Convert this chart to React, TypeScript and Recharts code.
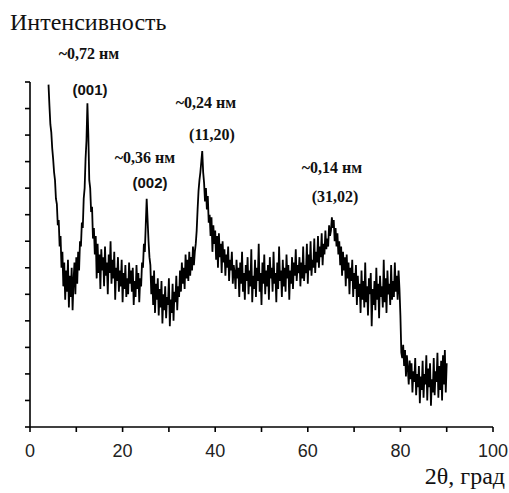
import { LineChart, Line, XAxis, YAxis } from 'recharts';

// XRD pattern, sampled every 0.2° from 4° to 90° (2θ)
const twoThetaStart = 4;
const twoThetaStep = 0.2;

// 4.0° – 22.0°: falling edge and (001) peak
const lowAngle = [
  12.9, 12.1, 11.4, 11.1, 10.5, 10.1, 9.6, 9.3, 8.6, 8.4, 7.6, 7.8, 6.8, 7.2, 6.0, 6.6,
  5.3, 6.2, 4.8, 5.9, 5.1, 6.3, 4.5, 5.7, 4.9, 6.0, 4.4, 5.5, 6.2, 5.0, 6.4, 5.4, 6.6, 5.9, 7.0,
  6.8, 7.7, 7.5, 8.6, 9.0, 10.1, 10.8, 12.2,
  11.0, 9.3, 9.0, 8.1, 8.3, 7.1, 7.5, 6.5, 7.2,
  5.6, 6.9, 5.8, 6.5, 5.2, 6.7, 5.9, 6.4, 5.3, 6.8, 5.7, 6.2, 5.0, 6.5, 5.8, 7.0, 5.4, 6.3,
  5.6, 6.6, 4.8, 6.0, 5.5, 6.4, 5.1, 5.9, 5.3, 6.3, 4.7, 5.8, 5.2, 6.1, 4.9, 5.6, 5.0, 6.2,
  5.4, 5.9, 5.1,
];
// 22.2° – 32.4°: (002) peak and dip
const peak002Region = [
  6.0, 4.6, 5.5, 4.9, 6.1, 5.2, 5.8, 4.7, 5.6, 5.3, 6.2,
  6.0, 6.9, 6.6, 7.6, 8.6, 7.8, 7.0, 6.4,
  6.1, 5.0, 5.7, 4.6, 5.9, 4.3, 5.4, 4.8, 5.6, 4.2, 5.2, 4.5, 5.5, 3.9, 5.0, 4.4, 5.3, 4.1,
  4.9, 4.6, 5.6, 3.8, 4.8, 4.3, 5.4, 4.0, 5.1, 4.7, 5.7, 4.4, 5.3, 4.9, 5.9,
];
// 32.6° – 44.2°: (11,20) peak
const peak1120Region = [
  5.1, 6.2, 5.4, 6.0, 5.2, 6.5, 5.6, 6.3, 5.5, 6.6, 5.7, 6.4, 5.9, 6.8, 6.1, 6.6, 6.9,
  7.4, 8.2, 8.9, 9.3, 9.6, 10.0, 10.4, 9.6, 9.2, 8.5, 9.0, 8.2, 8.7, 7.7, 8.0,
  7.2, 7.9, 6.6, 7.6, 6.9, 7.4, 6.3, 7.2, 6.0, 7.3, 6.4, 6.9, 5.8, 7.0, 6.2, 6.7, 5.7, 6.5,
  6.0, 6.8, 5.5, 6.3, 5.9, 6.6, 5.4, 6.1, 5.8,
];
// 44.4° – 58.0°: flat background
const plateau = [
  5.2, 6.3, 5.6, 6.0, 4.9, 6.2, 5.4, 6.6, 5.1, 5.8, 4.8, 6.1, 5.5, 6.4, 5.0, 5.9, 5.3, 6.7,
  4.7, 5.7, 5.2, 6.3, 4.9, 6.0, 5.5, 6.9, 5.1, 5.8, 4.6, 6.2, 5.4, 6.5, 5.0, 5.9, 5.3, 6.1,
  4.8, 6.4, 5.6, 6.0, 5.1, 6.6, 5.4, 5.8, 4.7, 6.2, 5.2, 6.8, 5.5, 5.9, 4.9, 6.3, 5.3, 6.0,
  5.1, 6.5, 5.6, 6.1, 4.8, 5.9, 5.4, 6.4, 5.2, 6.2, 5.7, 6.7, 5.5, 6.1, 5.8,
];
// 58.2° – 79.8°: broad (31,02) peak and shoulder
const peak3102Region = [
  6.4, 5.3, 6.2, 5.6, 6.8, 5.5, 6.1, 5.8, 6.9, 5.4, 6.5, 5.9, 7.0, 5.7, 6.3, 6.0, 7.1, 5.8,
  6.6, 6.2, 7.2, 6.0, 6.8, 6.4, 7.3, 6.1, 6.9, 6.5, 7.4, 6.7, 7.1, 6.8, 7.6, 7.2,
  7.4, 7.9, 7.5, 7.8, 7.0, 7.5, 6.8, 7.3, 6.5,
  7.0, 6.1, 6.8, 5.7, 6.6, 5.9, 6.4, 5.3, 6.5, 5.6, 6.2, 5.0, 6.0, 5.5, 6.3, 4.9, 5.8, 5.2, 6.1,
  4.6, 5.7, 4.9, 5.4, 4.3, 5.9, 4.8, 5.5, 4.5, 6.2, 4.7, 5.3, 4.2, 5.6, 5.0, 5.8, 3.8, 5.2,
  4.6, 5.5, 4.4, 6.0, 4.8, 5.4, 4.1, 5.7, 4.9, 5.3, 4.5, 6.3, 4.7, 5.6, 4.3, 5.9, 5.0, 5.4,
  4.6, 6.1, 4.8, 5.5, 4.9, 6.2, 5.1, 5.7, 4.8, 5.9, 5.2,
];
// 80.0° – 90.0°: after the step
const highAngle = [
  4.2, 2.8, 2.6, 3.1, 2.3, 2.9, 1.9, 2.7, 2.2, 1.6,
  2.5, 1.8, 2.4, 1.3, 2.1, 1.7, 2.6, 1.2, 2.0, 1.5,
  2.3, 0.9, 1.9, 1.4, 2.5, 1.1, 2.0, 1.6, 2.7, 1.0,
  2.2, 1.5, 2.4, 0.8, 1.8, 1.3, 2.6, 1.2, 2.1, 1.7,
  2.8, 1.1, 2.3, 1.4, 2.5, 1.0, 2.7, 1.6, 2.9, 1.3, 2.4,
];

const xTicks = [0, 10, 20, 30, 40, 50, 60, 70, 80, 90, 100];
const yTicks = [0, 1, 2, 3, 4, 5, 6, 7, 8, 9, 10, 11, 12, 13];

const peakLabels = [
  { text: '~0,72 нм', x: 89, y: 54, serif: true },
  { text: '(001)', x: 90, y: 89, serif: false },
  { text: '~0,36 нм', x: 145, y: 158, serif: true },
  { text: '(002)', x: 150, y: 182, serif: false },
  { text: '~0,24 нм', x: 206, y: 103, serif: true },
  { text: '(11,20)', x: 212, y: 135, serif: true },
  { text: '~0,14 нм', x: 332, y: 168, serif: true },
  { text: '(31,02)', x: 335, y: 197, serif: true },
];

const intensity = [
  ...lowAngle,
  ...peak002Region,
  ...peak1120Region,
  ...plateau,
  ...peak3102Region,
  ...highAngle,
];
const data = intensity.map((v, i) => ({
  angle: +(twoThetaStart + i * twoThetaStep).toFixed(1),
  value: v,
}));

export default function App() {
  return (
    <div style={{ position: 'absolute', left: 0, top: 0, width: 509, height: 493, background: '#fff' }}>
      <LineChart
        width={509}
        height={493}
        data={data}
        margin={{ top: 82, right: 16, left: 0, bottom: 0 }}
      >
        <XAxis
          dataKey="angle"
          type="number"
          domain={[0, 100]}
          ticks={xTicks}
          interval={0}
          height={66}
          stroke="#000"
          strokeWidth={1.6}
          tickSize={5}
          tickMargin={12}
          tick={{ fill: '#222', fontSize: 18, fontFamily: 'Liberation Sans, Arial, sans-serif' }}
          tickFormatter={(v: number) => (v % 20 === 0 ? String(v) : '')}
        />
        <YAxis
          type="number"
          domain={[0, 13]}
          ticks={yTicks}
          interval={0}
          width={30}
          stroke="#000"
          strokeWidth={1.6}
          tickSize={5}
          tickFormatter={() => ''}
        />
        <Line
          dataKey="value"
          type="linear"
          stroke="#000"
          strokeWidth={1.8}
          dot={false}
          isAnimationActive={false}
        />
      </LineChart>
      <div
        style={{
          position: 'absolute',
          left: 10,
          top: 8,
          fontFamily: 'Liberation Serif, Times New Roman, serif',
          fontSize: 24,
          lineHeight: '28px',
          color: '#111',
        }}
      >
        Интенсивность
      </div>
      <div
        style={{
          position: 'absolute',
          right: 4,
          top: 462,
          fontFamily: 'Liberation Serif, Times New Roman, serif',
          fontSize: 24,
          lineHeight: '28px',
          color: '#111',
        }}
      >
        2θ, град
      </div>
      {peakLabels.map((l) => (
        <div
          key={l.text}
          style={{
            position: 'absolute',
            left: l.x,
            top: l.y,
            transform: 'translate(-50%, -50%)',
            whiteSpace: 'nowrap',
            fontWeight: 'bold',
            fontFamily: l.serif ? 'Liberation Serif, Times New Roman, serif' : 'Liberation Sans, Arial, sans-serif',
            fontSize: l.serif ? 16 : 15,
            color: '#111',
          }}
        >
          {l.text}
        </div>
      ))}
    </div>
  );
}
